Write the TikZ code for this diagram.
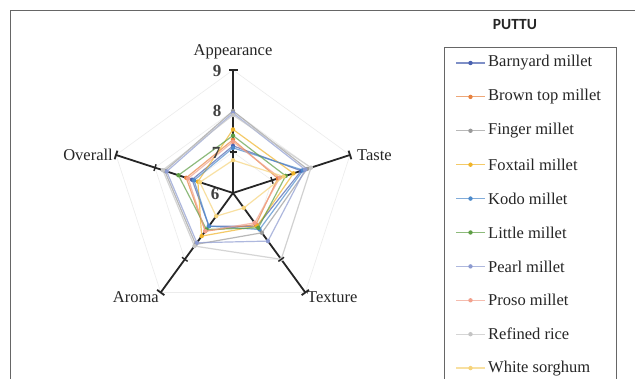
\documentclass[tikz,border=0pt]{standalone}
\usepackage{fontspec}
\setmainfont{Liberation Serif}
\newfontfamily\titlefont{Carlito}
\usetikzlibrary{calc}
\definecolor{cBarn}{HTML}{4A62B0}
\definecolor{cBrown}{HTML}{E8823F}
\definecolor{cFinger}{HTML}{9A9A9A}
\definecolor{cFox}{HTML}{F0B429}
\definecolor{cKodo}{HTML}{4C8ACB}
\definecolor{cLittle}{HTML}{5E9E44}
\definecolor{cPearl}{HTML}{8C9AD0}
\definecolor{cProso}{HTML}{F2A08C}
\definecolor{cRice}{HTML}{C4C4C4}
\definecolor{cSorg}{HTML}{F6D37A}
\tikzset{
  serline/.style={line width=1.2pt, opacity=0.7, line join=round},
  gridline/.style={draw=gray!15, line width=0.6pt},
  axisline/.style={draw=black!85, line width=1.8pt},
  axlabel/.style={font=\fontsize{16.5}{18}\selectfont, inner sep=0pt, text=black!85},
  numlabel/.style={font=\bfseries\fontsize{17}{19}\selectfont, inner sep=0pt, text=black!75},
  legtext/.style={font=\fontsize{16.5}{18}\selectfont, inner sep=0pt, anchor=west, text=black!85},
  framebox/.style={draw=gray!80!black, line width=0.8pt}
}
\begin{document}
\begin{tikzpicture}[x=1pt,y=1pt]
\useasboundingbox (0,0) rectangle (635,379);
\clip (0,0) rectangle (635,379);
\fill[white] (0,0) rectangle (635,379);
% frame
\draw[framebox] (10,-5) -- (10,369) -- (640,369);
% radar chart
\begin{scope}[shift={(233,186)}]
  \foreach \r in {41,82,123}
    \draw[gridline] (90:\r) -- (18:\r) -- (-54:\r) -- (-126:\r) -- (162:\r) -- cycle;
  \foreach \ang in {90,18,-54,-126,162}
    \draw[axisline] (0,0) -- (\ang:123);
  \foreach \col/\a/\b/\c/\d/\e in {
      cBarn/7.15/7.75/7.0/7.0/7.05,
      cBrown/7.3/7.15/6.95/7.15/7.2,
      cFinger/8.0/7.9/7.2/7.55/7.75,
      cFox/7.55/7.55/7.0/7.3/6.9,
      cKodo/7.1/7.8/7.1/7.0/7.0,
      cLittle/7.4/7.35/7.05/7.1/7.4,
      cPearl/7.95/7.85/7.45/7.5/7.7,
      cProso/7.25/7.2/6.9/7.15/7.15,
      cRice/7.9/8.0/8.0/7.6/7.8,
      cSorg/6.8/7.3/6.45/6.7/6.85}{
    \draw[serline,\col] (90:{(\a-6)*41}) -- (18:{(\b-6)*41}) -- (-54:{(\c-6)*41})
       -- (-126:{(\d-6)*41}) -- (162:{(\e-6)*41}) -- cycle;
    \foreach \ang/\v in {90/\a,18/\b,-54/\c,-126/\d,162/\e}
      \fill[\col] (\ang:{(\v-6)*41}) circle (2.2);
  }
  % caps and ticks
  \foreach \ang in {90,18,-54,-126,162}
    \draw[black!85, line width=1.8pt, rotate=\ang] (123,-4.5) -- (123,4.5);
  \foreach \ang/\v in {90/41,18/41,-54/82,-126/82,162/82}
    \draw[black!85, line width=1.4pt, rotate=\ang] (\v,-3.5) -- (\v,3.5);
\end{scope}
% value labels
\node[numlabel] (n9) at (217,308) {9};
\node[numlabel] (n8) at (217,268) {8};
\node[numlabel] (n7) at (216,226) {7};
\node[numlabel] (n6) at (215,185) {6};
% axis labels
\node[axlabel] (app) at (233,327) {Appearance};
\node[axlabel, anchor=west] (taste) at (357,224) {Taste};
\node[axlabel, anchor=west] (tex) at (307,82) {Texture};
\node[axlabel, anchor=east] (aro) at (159,82) {Aroma};
\node[axlabel, anchor=east] (ove) at (113,224) {Overall};
% legend
\node[font=\titlefont\bfseries\fontsize{15.5}{17}\selectfont, text=black!85] (title) at (515,354) {PUTTU};
\draw[framebox] (444,-5) rectangle (616,332);
\foreach \col/\txt [count=\i from 0] in {cBarn/Barnyard millet, cBrown/Brown top millet,
    cFinger/Finger millet, cFox/Foxtail millet, cKodo/Kodo millet, cLittle/Little millet,
    cPearl/Pearl millet, cProso/Proso millet, cRice/Refined rice, cSorg/White sorghum}{
  \coordinate (la\i) at (456,{316-33.9*\i});
  \coordinate (lb\i) at (485,{316-33.9*\i});
  \draw[serline,\col] (la\i) -- (lb\i);
  \fill[\col] ($(la\i)!0.5!(lb\i)$) circle (2.2);
  \node[legtext] (lt\i) at (488,{316-33.9*\i}) {\txt};
}
\end{tikzpicture}
\end{document}
